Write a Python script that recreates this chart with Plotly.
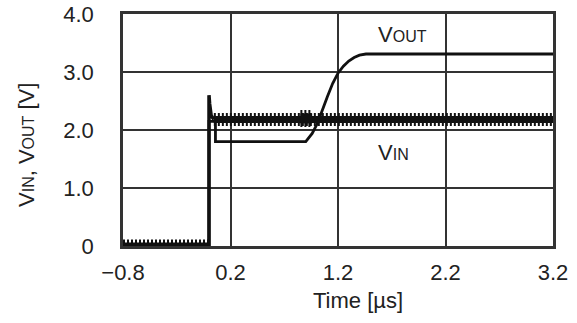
import plotly.graph_objects as go

# Data
vin_low_t = [-0.8, 0.0]
vin_low_v = [0.0, 0.0]
vin_edge_t = [0.0, 0.0, 0.006, 0.02, 0.045]
vin_edge_v = [0.0, 2.6, 2.45, 2.25, 2.18]
vin_high_t = [0.045, 3.2]
vin_high_v = [2.18, 2.18]
vin_ring_t = [0.85, 0.96]
vin_ring_v = [2.2, 2.2]
vout_t = [0.0, 0.0, 0.06, 0.06, 0.9, 0.96, 1.01, 1.06, 1.1, 1.15, 1.2, 1.25,
          1.3, 1.35, 1.4, 1.46, 3.2]
vout_v = [0.0, 2.15, 2.15, 1.8, 1.8, 1.94, 2.12, 2.38, 2.57, 2.8, 2.98, 3.1,
          3.19, 3.25, 3.29, 3.31, 3.31]
x_ticks = [-0.8, 0.2, 1.2, 2.2, 3.2]
x_ticktext = ["\u22120.8", "0.2", "1.2", "2.2", "3.2"]
y_ticks = [0, 1, 2, 3, 4]
y_ticktext = ["0", "1.0", "2.0", "3.0", "4.0"]

FONT = "Liberation Sans, Arial, sans-serif"
INK = "#111"
fig = go.Figure()


def band(t, v, ring=False):
    w_out, w_in = (17, 10) if ring else (13, 7)
    fig.add_trace(go.Scatter(x=t, y=v, mode="lines",
                             line=dict(color=INK, width=w_out, dash="2px,2px"),
                             hoverinfo="skip"))
    fig.add_trace(go.Scatter(x=t, y=v, mode="lines",
                             line=dict(color=INK, width=w_in), hoverinfo="skip"))


# VOUT
fig.add_trace(go.Scatter(x=vout_t, y=vout_v, mode="lines",
                         line=dict(color=INK, width=2.8), hoverinfo="skip"))
# VIN
band(vin_low_t, vin_low_v)
fig.add_trace(go.Scatter(x=vin_edge_t, y=vin_edge_v, mode="lines",
                         line=dict(color=INK, width=3.5), hoverinfo="skip"))
band(vin_high_t, vin_high_v)
band(vin_ring_t, vin_ring_v, ring=True)

axis_common = dict(showgrid=True, gridcolor="#333", gridwidth=2,
                   showline=True, linecolor="#333", linewidth=2.8, mirror=True,
                   ticks="", zeroline=False, automargin=False,
                   tickfont=dict(size=22))
fig.update_layout(
    width=577, height=323,
    margin=dict(l=123, r=24, t=14, b=77, autoexpand=False),
    paper_bgcolor="white", plot_bgcolor="white",
    showlegend=False, hovermode=False,
    font=dict(family=FONT, size=22, color="#222"),
    xaxis=dict(range=[-0.8, 3.2], tickvals=x_ticks, ticktext=x_ticktext,
               ticklabelstandoff=5, **axis_common),
    yaxis=dict(range=[0, 4.0], tickvals=y_ticks, ticktext=y_ticktext,
               ticklabelstandoff=22, **axis_common),
    annotations=[
        dict(text="V<span style='font-size:16px'>OUT</span>", x=1.80, y=3.64,
             xref="x", yref="y", showarrow=False, font=dict(size=22)),
        dict(text="V<span style='font-size:16px'>IN</span>", x=1.72, y=1.62,
             xref="x", yref="y", showarrow=False, font=dict(size=22)),
        dict(text="Time [\u00b5s]", x=(358 - 123) / 430, y=-(300 - 246) / 232,
             xref="paper", yref="paper", showarrow=False, font=dict(size=22),
             xanchor="center", yanchor="middle"),
        dict(text="V<span style='font-size:16px'>IN</span>, V<span style='font-size:16px'>OUT</span> [V]",
             x=(26 - 123) / 430, y=(246 - 145) / 232, xref="paper", yref="paper",
             showarrow=False, textangle=-90, font=dict(size=22),
             xanchor="center", yanchor="middle"),
    ],
)
fig.write_html("out.html", config={"displayModeBar": False, "staticPlot": True},
               post_script="document.body.style.margin='0';")
